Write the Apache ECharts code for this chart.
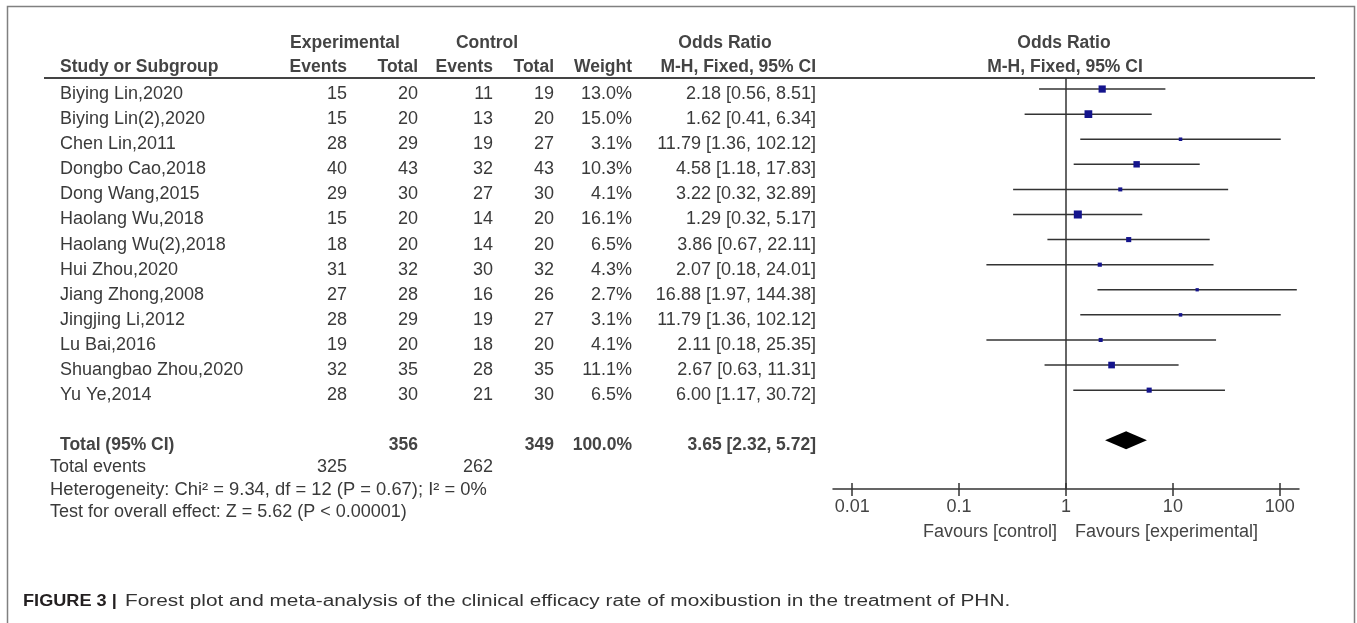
<!DOCTYPE html>
<html><head><meta charset="utf-8">
<script src="https://cdn.jsdelivr.net/npm/echarts@6/dist/echarts.min.js"></script>
<style>html,body{margin:0;padding:0;background:#fff}#c{width:1357px;height:623px}</style>
</head><body><div id="c"></div>
<script>
// ---------------- data ----------------
const studies = ['Biying Lin,2020','Biying Lin(2),2020','Chen Lin,2011','Dongbo Cao,2018','Dong Wang,2015','Haolang Wu,2018','Haolang Wu(2),2018','Hui Zhou,2020','Jiang Zhong,2008','Jingjing Li,2012','Lu Bai,2016','Shuangbao Zhou,2020','Yu Ye,2014'];
const expEvents = [15,15,28,40,29,15,18,31,27,28,19,32,28];
const expTotal = [20,20,29,43,30,20,20,32,28,29,20,35,30];
const ctrlEvents = [11,13,19,32,27,14,14,30,16,19,18,28,21];
const ctrlTotal = [19,20,27,43,30,20,20,32,26,27,20,35,30];
const weights = [13.0,15.0,3.1,10.3,4.1,16.1,6.5,4.3,2.7,3.1,4.1,11.1,6.5];
const oddsRatio = [2.18,1.62,11.79,4.58,3.22,1.29,3.86,2.07,16.88,11.79,2.11,2.67,6.00];
const ciLower = [0.56,0.41,1.36,1.18,0.32,0.32,0.67,0.18,1.97,1.36,0.18,0.63,1.17];
const ciUpper = [8.51,6.34,102.12,17.83,32.89,5.17,22.11,24.01,144.38,102.12,25.35,11.31,30.72];
const pooledOR = 3.65, pooledLower = 2.32, pooledUpper = 5.72;
const totalExp = 356, totalCtrl = 349, totalWeight = 100.0;
const eventsExp = 325, eventsCtrl = 262;
const heterogeneityText = 'Heterogeneity: Chi\u00B2 = 9.34, df = 12 (P = 0.67); I\u00B2 = 0%';
const overallEffectText = 'Test for overall effect: Z = 5.62 (P < 0.00001)';
const tickValues = [0.01, 0.1, 1, 10, 100];
const tickLabels = ['0.01', '0.1', '1', '10', '100'];
const favoursLeft = 'Favours [control]';
const favoursRight = 'Favours [experimental]';
const captionBold = 'FIGURE 3 |';
const captionText = 'Forest plot and meta-analysis of the clinical efficacy rate of moxibustion in the treatment of PHN.';

// ---------------- layout / style ----------------
const FAM = '"Liberation Sans", Arial, sans-serif';
const TXT = '#3a3a3a';
const HDR = '#444';
const REG = '18px ' + FAM;
const BOLD = 'bold 17.5px ' + FAM;
const COL = {name: 60, expEv: 347, expTot: 418, ctlEv: 493, ctlTot: 554, weight: 632, or: 816};
const TEXT_DY = 5;
const POOLED_ROW = 14;
const lg = Math.log10;
const fmt = (v) => v.toFixed(2);
const orLabel = (o, l, h) => fmt(o) + ' [' + fmt(l) + ', ' + fmt(h) + ']';

function txt(x, y, text, align, font, color, sx) {
  return {type: 'text', x: x, y: y, silent: true, scaleX: sx || 1,
    style: {text: text, align: align, textAlign: align, verticalAlign: 'middle', textVerticalAlign: 'middle',
      font: font, fill: color || TXT}};
}

const ciData = studies.map((s, i) => [lg(ciLower[i]), lg(ciUpper[i]), lg(oddsRatio[i]), i, weights[i]]);
const tableData = studies.map((s, i) => [0, i]);

const chart = echarts.init(document.getElementById('c'), null, {renderer: 'canvas'});
const tickPos = tickValues.map(lg);

chart.setOption({
  animation: false,
  backgroundColor: '#fff',
  grid: {left: 833, top: 78, width: 466, height: 411, containLabel: false, outerBoundsMode: 'none'},
  xAxis: [{
    type: 'value', min: -2.18, max: 2.18, position: 'bottom',
    axisLine: {show: true, onZero: false, lineStyle: {color: '#333', width: 1.5}},
    axisTick: {show: true, customValues: tickPos, length: 7, lineStyle: {color: '#333', width: 1.5}},
    axisLabel: {show: true, customValues: tickPos, margin: 9, fontSize: 18, fontFamily: FAM, color: '#444',
      formatter: (v) => { const k = tickPos.findIndex(t => Math.abs(t - v) < 1e-6); return k >= 0 ? tickLabels[k] : ''; }},
    splitLine: {show: false}
  }, {
    type: 'value', min: -2.18, max: 2.18, position: 'bottom',
    axisLine: {show: false, onZero: false},
    axisTick: {show: true, inside: true, customValues: tickPos, length: 6, lineStyle: {color: '#333', width: 1.5}},
    axisLabel: {show: false},
    splitLine: {show: false}
  }],
  yAxis: {type: 'value', inverse: true, min: -0.44, max: 15.94, show: false, splitLine: {show: false}},
  series: [{
    // study confidence intervals and weight squares
    type: 'custom', name: 'studies', coordinateSystem: 'cartesian2d', xAxisIndex: 0,
    data: ciData, encode: {x: [0, 1, 2], y: 3},
    renderItem: (params, api) => {
      const row = api.value(3);
      const pL = api.coord([api.value(0), row]);
      const pH = api.coord([api.value(1), row]);
      const pC = api.coord([api.value(2), row]);
      const s = 2 * Math.sqrt(api.value(4));
      return {type: 'group', children: [
        {type: 'line', shape: {x1: pL[0], y1: pL[1], x2: pH[0], y2: pH[1]}, style: {stroke: '#333', lineWidth: 1.5}},
        {type: 'rect', shape: {x: pC[0] - s / 2, y: pC[1] - s / 2, width: s, height: s}, style: {fill: '#14148c'}}
      ]};
    },
    markLine: {silent: true, symbol: 'none', label: {show: false},
      lineStyle: {color: '#333', width: 1.5, type: 'solid'}, data: [{xAxis: lg(1)}]}
  }, {
    // pooled diamond + total row
    type: 'custom', name: 'pooled', coordinateSystem: 'cartesian2d',
    data: [[lg(pooledLower), lg(pooledUpper), lg(pooledOR), POOLED_ROW]], encode: {x: [0, 1, 2], y: 3},
    renderItem: (params, api) => {
      const row = api.value(3);
      const pL = api.coord([api.value(0), row]);
      const pH = api.coord([api.value(1), row]);
      const pC = api.coord([api.value(2), row]);
      const hh = 9;
      const y = pC[1] + TEXT_DY;
      return {type: 'group', children: [
        {type: 'polygon', shape: {points: [[pL[0], pC[1]], [pC[0], pC[1] - hh], [pH[0], pC[1]], [pC[0], pC[1] + hh]]}, style: {fill: '#000'}},
        txt(COL.name, y, 'Total (95% CI)', 'left', BOLD, HDR),
        txt(COL.expTot, y, String(totalExp), 'right', BOLD, HDR),
        txt(COL.ctlTot, y, String(totalCtrl), 'right', BOLD, HDR),
        txt(COL.weight, y, totalWeight.toFixed(1) + '%', 'right', BOLD, HDR),
        txt(COL.or, y, orLabel(pooledOR, pooledLower, pooledUpper), 'right', BOLD, HDR)
      ]};
    }
  }, {
    // study table text
    type: 'custom', name: 'table', coordinateSystem: 'cartesian2d',
    data: tableData, encode: {x: 0, y: 1},
    renderItem: (params, api) => {
      const i = params.dataIndex;
      const y = api.coord([0, api.value(1)])[1] + TEXT_DY;
      return {type: 'group', children: [
        txt(COL.name, y, studies[i], 'left', REG),
        txt(COL.expEv, y, String(expEvents[i]), 'right', REG),
        txt(COL.expTot, y, String(expTotal[i]), 'right', REG),
        txt(COL.ctlEv, y, String(ctrlEvents[i]), 'right', REG),
        txt(COL.ctlTot, y, String(ctrlTotal[i]), 'right', REG),
        txt(COL.weight, y, weights[i].toFixed(1) + '%', 'right', REG),
        txt(COL.or, y, orLabel(oddsRatio[i], ciLower[i], ciUpper[i]), 'right', REG)
      ]};
    }
  }],
  graphic: [
    {type: 'rect', silent: true, shape: {x: 7.5, y: 6.5, width: 1347, height: 700}, style: {fill: 'none', stroke: '#808080', lineWidth: 1.5}},
    {type: 'line', silent: true, shape: {x1: 44, y1: 78, x2: 1315, y2: 78}, style: {stroke: '#444', lineWidth: 2}},
    txt(345, 43, 'Experimental', 'center', BOLD, HDR),
    txt(487, 43, 'Control', 'center', BOLD, HDR),
    txt(725, 43, 'Odds Ratio', 'center', BOLD, HDR),
    txt(1064, 43, 'Odds Ratio', 'center', BOLD, HDR),
    txt(COL.name, 67, 'Study or Subgroup', 'left', BOLD, HDR),
    txt(COL.expEv, 67, 'Events', 'right', BOLD, HDR),
    txt(COL.expTot, 67, 'Total', 'right', BOLD, HDR),
    txt(COL.ctlEv, 67, 'Events', 'right', BOLD, HDR),
    txt(COL.ctlTot, 67, 'Total', 'right', BOLD, HDR),
    txt(COL.weight, 67, 'Weight', 'right', BOLD, HDR),
    txt(COL.or, 67, 'M-H, Fixed, 95% CI', 'right', BOLD, HDR),
    txt(1065, 67, 'M-H, Fixed, 95% CI', 'center', BOLD, HDR),
    txt(50, 467, 'Total events', 'left', REG),
    txt(COL.expEv, 467, String(eventsExp), 'right', REG),
    txt(COL.ctlEv, 467, String(eventsCtrl), 'right', REG),
    txt(50, 490, heterogeneityText, 'left', REG, TXT, 1.02),
    txt(50, 512, overallEffectText, 'left', REG),
    txt(1057, 532, favoursLeft, 'right', REG, '#444'),
    txt(1075, 532, favoursRight, 'left', REG, '#444'),
    txt(23, 601.5, captionBold, 'left', 'bold 16.5px ' + FAM, '#231f20', 1.10),
    txt(125, 601.5, captionText, 'left', '16px ' + FAM, '#333', 1.30)
  ]
});
</script></body></html>
